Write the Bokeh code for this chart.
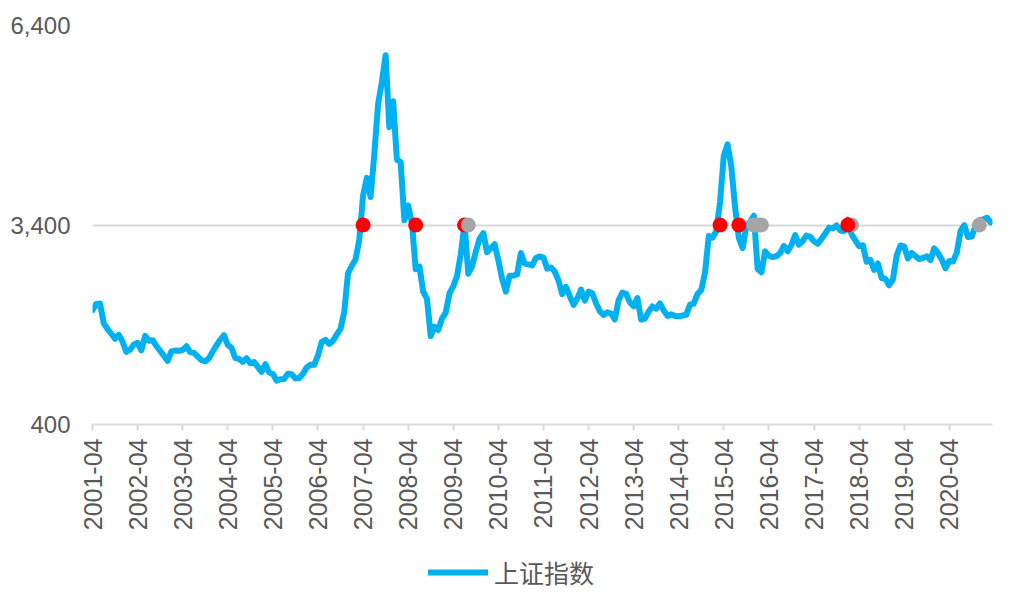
from bokeh.plotting import figure
from bokeh.models import Range1d, FixedTicker, Legend, LegendItem, ColumnDataSource
from bokeh.layouts import column
from bokeh.embed import file_html
from bokeh.resources import INLINE
import math

# ---- data ----
start_year, start_month = 2001, 4
values = [
    2119, 2214, 2218, 1920, 1834, 1764, 1689, 1747, 1646,
    1491, 1524, 1603, 1628, 1515, 1732, 1661, 1667, 1581, 1508, 1434, 1357,
    1499, 1511, 1510, 1521, 1576, 1487, 1477, 1421, 1367, 1348, 1397, 1497,
    1590, 1675, 1742, 1595, 1555, 1399, 1386, 1342, 1396, 1320, 1340, 1266,
    1191, 1306, 1181, 1159, 1060, 1080, 1083, 1162, 1155, 1092, 1099, 1161,
    1258, 1299, 1298, 1440, 1641, 1672, 1612, 1658, 1752, 1837, 2099, 2675,
    2786, 2881, 3183, 3841, 4109, 3820, 4471, 5218, 5552, 5954, 4871, 5262,
    4383, 4348, 3472, 3693, 3433, 2736, 2775, 2397, 2293, 1729, 1871, 1821,
    1991, 2082, 2373, 2477, 2633, 2959, 3412, 2667, 2779, 2996, 3195, 3277,
    2989, 3051, 3110, 2871, 2592, 2398, 2638, 2639, 2656, 2979, 2820, 2808,
    2791, 2905, 2928, 2911, 2743, 2762, 2701, 2568, 2359, 2468, 2333, 2199,
    2292, 2428, 2263, 2397, 2373, 2225, 2103, 2047, 2086, 2069, 1980, 2269,
    2385, 2366, 2237, 2178, 2301, 1979, 1994, 2098, 2175, 2141, 2220, 2116,
    2033, 2056, 2033, 2026, 2039, 2048, 2202, 2217, 2364, 2420, 2683, 3235,
    3210, 3310, 3748, 4442, 4612, 4277, 3664, 3206, 3053, 3383, 3446, 3539,
    2738, 2688, 3004, 2938, 2917, 2930, 2979, 3085, 3005, 3100, 3250, 3104,
    3159, 3242, 3223, 3155, 3117, 3192, 3273, 3361, 3349, 3393, 3317, 3307,
    3481, 3259, 3169, 3082, 3095, 2847, 2876, 2725, 2821, 2603, 2588, 2494,
    2585, 2941, 3091, 3078, 2899, 2979, 2933, 2886, 2905, 2929, 2872, 3050,
    2977, 2880, 2750, 2860, 2852, 2985, 3310, 3396, 3218, 3225, 3392, 3473,
    3483, 3509, 3441,
]
months = []
y, m = start_year, start_month
for _ in values:
    months.append(f"{y}-{m:02d}")
    m += 1
    if m > 12:
        m = 1
        y += 1

red_months = ["2007-04", "2008-06", "2009-07", "2015-03", "2015-08", "2018-01"]
grey_months_back = ["2018-02"]
grey_months_front = ["2009-08", "2015-12", "2016-01", "2016-02", "2020-12"]
marker_level = 3400

y_ticks = [400, 3400, 6400]
x_tick_labels = [f"{yr}-04" for yr in range(2001, 2021)]
series_name = "上证指数"

LINE_COLOR = "#00B0F0"
TEXT_COLOR = "#595959"
LINE_W = 6

# ---- build ----
idx = {mo: i for i, mo in enumerate(months)}
xs = list(range(len(values)))

p = figure(width=1011, height=545, output_backend="svg", toolbar_location=None,
           x_range=Range1d(0, len(values) - 0.5), y_range=Range1d(y_ticks[0], y_ticks[-1]),
           min_border_left=92, min_border_right=19, min_border_top=25, min_border_bottom=121)
p.outline_line_color = None

src = ColumnDataSource(dict(x=xs, y=values))
ln = p.line("x", "y", source=src, line_color=LINE_COLOR, line_width=LINE_W,
            line_join="round", line_cap="round")

def dots(ms, color):
    p.scatter([idx[q] for q in ms], [marker_level] * len(ms), size=15,
              fill_color=color, line_color=None)

dots(grey_months_back, "#A5A5A5")
dots(red_months, "#FF0000")
dots(grey_months_front, "#A5A5A5")

# x axis
tick_pos = [idx[t] for t in x_tick_labels]
p.xaxis.ticker = FixedTicker(ticks=tick_pos)
p.xaxis.major_label_overrides = {tp: lab for tp, lab in zip(tick_pos, x_tick_labels)}
p.xaxis.major_label_orientation = math.pi / 2
p.xaxis.axis_line_color = "#D9D9D9"
p.xaxis.axis_line_width = 2
p.xaxis.major_tick_line_color = "#D9D9D9"
p.xaxis.major_tick_line_width = 2
p.xaxis.major_tick_out = 6
p.xaxis.major_tick_in = 0
p.xaxis.minor_tick_line_color = None
p.xaxis.major_label_standoff = 8
p.xaxis.major_label_text_font = "Liberation Sans"
p.xaxis.major_label_text_font_size = "25px"
p.xaxis.major_label_text_color = TEXT_COLOR
p.xgrid.grid_line_color = None

# y axis
p.yaxis.ticker = FixedTicker(ticks=y_ticks)
p.yaxis.major_label_overrides = {t: f"{t:,}" for t in y_ticks}
p.yaxis.axis_line_color = None
p.yaxis.major_tick_line_color = None
p.yaxis.minor_tick_line_color = None
p.yaxis.major_label_standoff = 16
p.yaxis.major_label_text_font = "Liberation Sans"
p.yaxis.major_label_text_font_size = "24px"
p.yaxis.major_label_text_color = TEXT_COLOR
p.ygrid.grid_line_color = "#D9D9D9"
p.ygrid.grid_line_width = 2

# legend strip below the chart
lg = figure(width=1011, height=59, output_backend="svg", toolbar_location=None,
            x_range=Range1d(0, 1), y_range=Range1d(0, 1),
            x_axis_location=None, y_axis_location=None,
            min_border_left=0, min_border_right=0, min_border_top=0, min_border_bottom=0)
lg.grid.grid_line_color = None
lg.outline_line_color = None
key = lg.line(x=[5, 6], y=[5, 5], line_color=LINE_COLOR, line_width=LINE_W, line_cap="round")
legend = Legend(items=[LegendItem(label=series_name, renderers=[key])],
                location=(336, 14), orientation="horizontal",
                border_line_color=None, background_fill_alpha=0,
                label_text_font="Noto Sans CJK SC", label_text_font_size="25px",
                label_text_color=TEXT_COLOR, glyph_width=60, glyph_height=30,
                label_standoff=6, padding=0, margin=0)
lg.add_layout(legend, "center")

open("out.html", "w").write(file_html(column(p, lg, spacing=0), INLINE))
